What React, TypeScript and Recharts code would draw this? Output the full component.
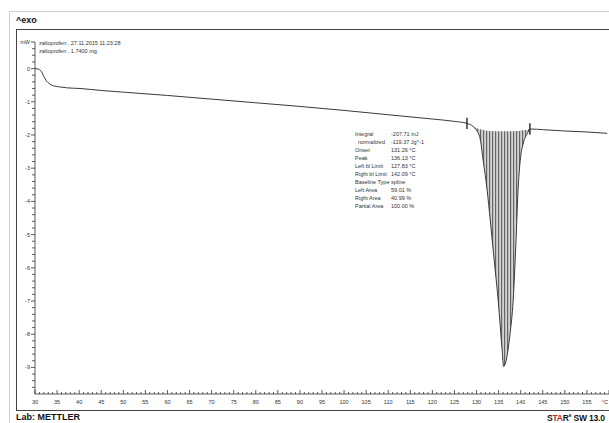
import React from 'react';
import {
  ComposedChart,
  Line,
  Area,
  XAxis,
  YAxis,
  ReferenceLine,
} from 'recharts';

// DSC curve (temperature in °C, heat flow in mW)
const temps = [
  30, 30.8, 31.5, 32, 32.6, 33.3, 34.2, 35.5, 37.2, 40.2, 45, 50, 60, 70, 80, 90, 100, 110, 120, 125,
  127.83, 128.5, 129.2, 130, 130.8, 131.5, 132.4, 133.1, 134, 134.9, 135.8, 136.13, 136.6, 137.1, 137.6,
  138.3, 138.9, 139.4, 139.9, 140.6, 141.5, 142.09, 145, 150, 155, 159.6,
];
const heatFlow = [
  0.0, -0.02, -0.1, -0.24, -0.37, -0.46, -0.52, -0.55, -0.58, -0.6, -0.66, -0.71, -0.81, -0.92, -1.03, -1.14,
  -1.26, -1.39, -1.52, -1.59, -1.65, -1.68, -1.74, -1.86, -2.1, -2.76, -3.66, -4.56, -5.77, -6.98, -8.48,
  -8.97, -8.85, -8.5, -7.97, -6.98, -5.3, -3.66, -2.76, -2.24, -1.96, -1.82, -1.84, -1.88, -1.91, -1.95,
];
// spline baseline under the peak (null outside the integration limits)
const baseline = [
  null, null, null, null, null, null, null, null, null, null, null, null, null, null, null, null, null, null,
  null, null, -1.65, -1.68, -1.74, -1.79, -1.83, -1.85, -1.87, -1.88, -1.89, -1.89, -1.89, -1.89, -1.89,
  -1.89, -1.89, -1.89, -1.88, -1.88, -1.87, -1.86, -1.84, -1.82, null, null, null, null,
];

const limitTemps = [127.83, 142.09];
const limitValues = [-1.65, -1.82];

const xTicks: number[] = [];
for (let t = 30; t <= 160; t++) xTicks.push(t);
const yTicks: number[] = [];
for (let i = -48; i <= 4; i++) yTicks.push(Math.round(i * 2) / 10);

const results = [
  ['Integral', '-207.71 mJ'],
  ['  normalized', '-119.37 Jg^-1'],
  ['Onset', '131.26 °C'],
  ['Peak', '136.13 °C'],
  ['Left bl Limit', '127.83 °C'],
  ['Right bl Limit', '142.09 °C'],
  ['Baseline Type', 'spline'],
  ['Left Area', '59.01 %'],
  ['Right Area', '40.99 %'],
  ['Partial Area', '100.00 %'],
];

const data = temps.map((t, i) => ({
  t,
  hf: heatFlow[i],
  band: baseline[i] != null ? [baseline[i], heatFlow[i]] : null,
}));

const font = '"Liberation Sans", Arial, sans-serif';

const XTick = (props: any) => {
  const { x, y, payload } = props;
  const v = Math.round(payload.value);
  const major = v % 5 === 0;
  return (
    <g>
      <line x1={x} x2={x} y1={y} y2={y - (major ? 4 : 2)} stroke="#333" strokeWidth={0.8} />
      {major && (
        <text x={v === 160 ? x - 1 : x} y={y + 10} textAnchor={v === 160 ? 'end' : 'middle'} fontSize={5.5} fill="#333" fontFamily={font}>
          {v === 160 ? '°C' : v}
        </text>
      )}
    </g>
  );
};

const YTick = (props: any) => {
  const { x, y, payload } = props;
  const v = payload.value;
  const major = Math.abs(v - Math.round(v)) < 0.01;
  const isTop = Math.abs(v - 0.8) < 0.01;
  return (
    <g>
      <line x1={x} x2={x - (major || isTop ? 4 : 3)} y1={y} y2={y} stroke="#333" strokeWidth={0.8} />
      {(major || isTop) && (
        <text x={x - 5} y={y + 2} textAnchor="end" fontSize={5.5} fill="#333" fontFamily={font}>
          {isTop ? 'mW' : Math.round(v)}
        </text>
      )}
    </g>
  );
};

const small: React.CSSProperties = { position: 'absolute', fontSize: 5.5, color: '#333', fontFamily: font, whiteSpace: 'pre', lineHeight: '8px' };

export default function App() {
  return (
    <div style={{ position: 'absolute', left: 0, top: 0, width: 609, height: 423, overflow: 'hidden', background: '#fff' }}>
      <div style={{ position: 'absolute', left: 9, top: 11, width: 640, height: 440, border: '1px solid #cfcfcf' }} />
      <div style={{ position: 'absolute', left: 16, top: 29, width: 640, height: 380, border: '1px solid #444' }} />
      <div style={{ position: 'absolute', left: 16, top: 15, fontSize: 9, fontWeight: 600, fontFamily: font, color: '#111' }}>^exo</div>
      <div style={{ ...small, left: 39, top: 39 }}>zaltoprofen , 27.11.2015 11:23:28</div>
      <div style={{ ...small, left: 39, top: 47 }}>zaltoprofen , 1.7400 mg</div>

      <div style={{ position: 'absolute', left: 0, top: 0 }}>
        <ComposedChart width={609} height={423} data={data} margin={{ top: 42, right: 0, bottom: 0, left: 15 }}>
          <defs>
            <pattern id="hatch" patternUnits="userSpaceOnUse" width={3} height={10}>
              <rect x={0} y={0} width={3} height={10} fill="#d4d4d4" />
              <line x1={0.6} x2={0.6} y1={0} y2={10} stroke="#666" strokeWidth={1.2} />
            </pattern>
          </defs>
          <XAxis
            type="number"
            dataKey="t"
            domain={[30, 160]}
            ticks={xTicks}
            interval={0}
            tick={<XTick />}
            tickSize={0}
            tickMargin={0}
            tickLine={false}
            axisLine={{ stroke: '#333', strokeWidth: 0.8 }}
            height={29}
            allowDataOverflow
          />
          <YAxis
            type="number"
            domain={[-9.8, 0.8]}
            ticks={yTicks}
            interval={0}
            tick={<YTick />}
            tickSize={0}
            tickMargin={0}
            tickLine={false}
            axisLine={{ stroke: '#333', strokeWidth: 0.8 }}
            width={20}
            allowDataOverflow
          />
          <Area
            type="monotone"
            dataKey="band"
            stroke="none"
            fill="url(#hatch)"
            fillOpacity={1}
            isAnimationActive={false}
            dot={false}
            activeDot={false}
          />
          <Line
            type="monotone"
            dataKey="hf"
            stroke="#3a3a3a"
            strokeWidth={1}
            dot={false}
            activeDot={false}
            isAnimationActive={false}
          />
          {limitTemps.map((t, i) => (
            <ReferenceLine
              key={t}
              segment={[{ x: t, y: limitValues[i] + 0.17 }, { x: t, y: limitValues[i] - 0.17 }]}
              stroke="#222"
              strokeWidth={1.4}
            />
          ))}
        </ComposedChart>
      </div>

      <div style={{ position: 'absolute', left: 355, top: 130 }}>
        {results.map(([k, v]) => (
          <div key={k} style={{ ...small, position: 'relative', height: 8 }}>
            <span style={{ display: 'inline-block', width: 36 }}>{k}</span>
            <span>{v}</span>
          </div>
        ))}
      </div>

      <div style={{ position: 'absolute', left: 16, top: 412, fontSize: 9, fontWeight: 700, fontFamily: font, color: '#111' }}>Lab: METTLER</div>
      <div style={{ position: 'absolute', left: 547, top: 412, fontSize: 8.5, fontWeight: 700, fontFamily: font, color: '#111', whiteSpace: 'nowrap', letterSpacing: -0.2 }}>
        S<span style={{ color: '#d0202a' }}>TA</span>R<sup style={{ fontSize: 5 }}>e</sup> SW 13.0
      </div>
    </div>
  );
}
